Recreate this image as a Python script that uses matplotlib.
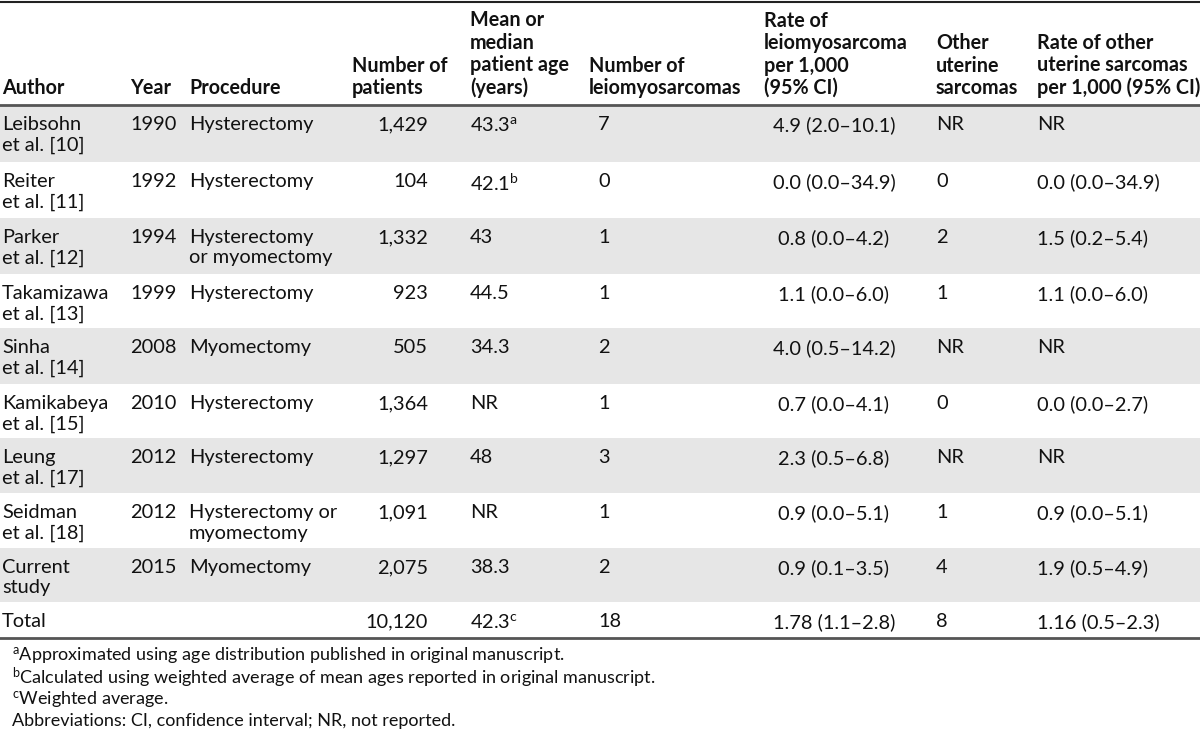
import matplotlib
matplotlib.use("Agg")
import matplotlib.pyplot as plt
from matplotlib.patches import Rectangle

plt.rcParams['font.family'] = ['Lato', 'DejaVu Sans']
plt.rcParams['mathtext.fontset'] = 'custom'
plt.rcParams['mathtext.rm'] = 'Lato'
plt.rcParams['mathtext.it'] = 'Lato'
plt.rcParams['mathtext.bf'] = 'Lato:bold'

# ---- data ----
headers = ["Author", "Year", "Procedure", "Number of\npatients",
           "Mean or\nmedian\npatient age\n(years)", "Number of\nleiomyosarcomas",
           "Rate of\nleiomyosarcoma\nper 1,000\n(95% CI)", "Other\nuterine\nsarcomas",
           "Rate of other\nuterine sarcomas\nper 1,000 (95% CI)"]
authors = ["Leibsohn\net al. [10]", "Reiter\net al. [11]", "Parker\net al. [12]",
           "Takamizawa\net al. [13]", "Sinha\net al. [14]", "Kamikabeya\net al. [15]",
           "Leung\net al. [17]", "Seidman\net al. [18]", "Current\nstudy", "Total"]
years = ["1990", "1992", "1994", "1999", "2008", "2010", "2012", "2012", "2015", ""]
procedures = ["Hysterectomy", "Hysterectomy", "Hysterectomy\nor myomectomy", "Hysterectomy",
              "Myomectomy", "Hysterectomy", "Hysterectomy", "Hysterectomy or\nmyomectomy",
              "Myomectomy", ""]
patients = ["1,429", "104", "1,332", "923", "505", "1,364", "1,297", "1,091", "2,075", "10,120"]
ages = ["43.3$^{\\mathrm{a}}$", "42.1$^{\\mathrm{b}}$", "43", "44.5", "34.3", "NR", "48", "NR",
        "38.3", "42.3$^{\\mathrm{c}}$"]
lms = ["7", "0", "1", "1", "2", "1", "3", "1", "2", "18"]
lms_rate = ["4.9 (2.0–10.1)", "0.0 (0.0–34.9)", "0.8 (0.0–4.2)", "1.1 (0.0–6.0)",
            "4.0 (0.5–14.2)", "0.7 (0.0–4.1)", "2.3 (0.5–6.8)", "0.9 (0.0–5.1)",
            "0.9 (0.1–3.5)", "1.78 (1.1–2.8)"]
other = ["NR", "0", "2", "1", "NR", "0", "NR", "1", "4", "8"]
other_rate = ["NR", "0.0 (0.0–34.9)", "1.5 (0.2–5.4)", "1.1 (0.0–6.0)", "NR",
              "0.0 (0.0–2.7)", "NR", "0.9 (0.0–5.1)", "1.9 (0.5–4.9)", "1.16 (0.5–2.3)"]
footnotes = ["$^{\\mathrm{a}}$Approximated using age distribution published in original manuscript.",
             "$^{\\mathrm{b}}$Calculated using weighted average of mean ages reported in original manuscript.",
             "$^{\\mathrm{c}}$Weighted average.",
             "Abbreviations: CI, confidence interval; NR, not reported."]

# ---- layout ----
fig = plt.figure(figsize=(12, 7.3), dpi=100)
ax = fig.add_axes([0, 0, 1, 1])
ax.set_xlim(0, 1200)
ax.set_ylim(730, 0)
ax.axis('off')

FS = 14.4
FSB = 14.2
LS = 1.25
LSB = 1.15
row_tops = [105, 162, 218, 274, 328, 384, 438, 493, 548, 602]
row_bottom = 638

for i, top in enumerate(row_tops):
    bot = row_tops[i + 1] if i + 1 < len(row_tops) else row_bottom
    if i % 2 == 0 and i < 9:
        ax.add_patch(Rectangle((0, top), 1200, bot - top, color='#e6e6e6', lw=0))

ax.plot([0, 1200], [1.5, 1.5], color='#222222', lw=1.5)
ax.plot([0, 1200], [105, 105], color='#555555', lw=2.0)
ax.plot([0, 1200], [row_bottom, row_bottom], color='#555555', lw=2.0)

hdr_x = [2, 130, 189, 352, 470, 589, 764, 936, 1037]
for h, x in zip(headers, hdr_x):
    ax.text(x, 98, h, ha='left', va='bottom', fontsize=FSB, fontweight='bold',
            linespacing=LSB, color='#111111')

cols = [
    (authors, 2, 'left'),
    (years, 130, 'left'),
    (procedures, 189, 'left'),
    (patients, 428, 'right'),
    (ages, 470, 'left'),
    (lms, 598, 'left'),
    (lms_rate, 834, 'center'),
    (other, 936, 'left'),
    (other_rate, 1037, 'left'),
]
for i, top in enumerate(row_tops):
    y = top + 11
    for vals, x, ha in cols:
        ax.text(x, y, vals[i], ha=ha, va='top', fontsize=FS, linespacing=LS,
                color='#111111')

for j, fn in enumerate(footnotes):
    ax.text(12, 656 + j * 21.7, fn, ha='left', va='center', fontsize=13, color='#111111')

fig.savefig('out.png', dpi=100)
